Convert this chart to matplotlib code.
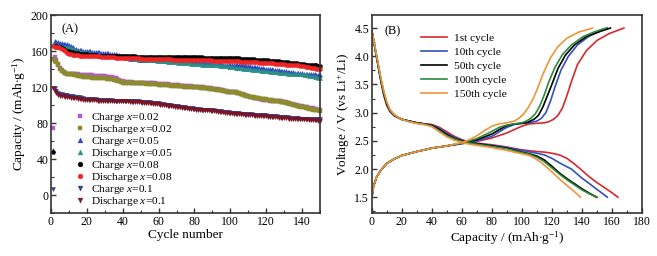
import matplotlib
matplotlib.use('Agg')
from matplotlib import pyplot as plt
import numpy as np

plt.rcParams['font.family'] = ['Liberation Serif', 'DejaVu Serif']
plt.rcParams['mathtext.fontset'] = 'custom'
plt.rcParams['mathtext.rm'] = 'Liberation Serif'
plt.rcParams['mathtext.it'] = 'Liberation Serif:italic'

# (A) cycling data, capacity in mAh/g for cycles 1..150
cycles = np.arange(1, 151)

charge_002 = [74, 153, 150, 145, 141, 139, 137, 136, 135, 135,
              134, 134, 134, 134, 134, 133, 133, 133, 133, 133,
              133, 133, 133, 132, 132, 132, 132, 132, 132, 132,
              131, 131, 131, 131, 130, 130, 129, 128, 127, 127,
              126, 126, 126, 126, 126, 125, 125, 125, 125, 125,
              125, 125, 124, 124, 124, 124, 124, 124, 123, 123,
              123, 123, 123, 123, 123, 122, 122, 122, 122, 122,
              122, 121, 121, 121, 121, 121, 121, 121, 120, 120,
              120, 120, 120, 120, 120, 119, 119, 119, 119, 118,
              118, 118, 118, 117, 117, 117, 116, 116, 115, 115,
              115, 114, 114, 113, 113, 112, 112, 111, 110, 110,
              109, 109, 108, 108, 108, 107, 107, 106, 106, 106,
              106, 105, 105, 105, 104, 104, 104, 104, 103, 103,
              103, 102, 102, 101, 101, 100, 100, 99, 99, 99,
              98, 98, 98, 97, 97, 97, 96, 96, 95, 95]
discharge_002 = [151, 149, 148, 146, 140, 138, 137, 136, 135, 135,
                 134, 134, 133, 133, 132, 132, 132, 131, 131, 131,
                 131, 131, 130, 130, 130, 130, 130, 130, 130, 130,
                 129, 129, 129, 129, 128, 128, 127, 127, 126, 125,
                 125, 125, 125, 125, 125, 124, 124, 124, 124, 124,
                 124, 124, 123, 123, 123, 123, 123, 123, 123, 122,
                 122, 122, 122, 122, 122, 122, 121, 121, 121, 121,
                 121, 121, 121, 120, 120, 120, 120, 120, 120, 120,
                 120, 120, 119, 119, 119, 119, 119, 118, 118, 118,
                 118, 117, 117, 117, 117, 116, 116, 115, 115, 115,
                 115, 114, 114, 113, 113, 112, 111, 111, 110, 110,
                 109, 109, 109, 108, 108, 108, 107, 107, 107, 107,
                 106, 106, 106, 105, 105, 104, 104, 103, 103, 103,
                 102, 102, 101, 101, 100, 100, 99, 99, 98, 98,
                 98, 97, 97, 96, 96, 95, 95, 94, 94, 93]
charge_005 = [50, 171, 170, 170, 169, 169, 168, 168, 168, 167,
              166, 164, 162, 162, 161, 161, 161, 160, 160, 160,
              160, 160, 159, 159, 159, 159, 159, 158, 158, 158,
              158, 158, 157, 157, 157, 157, 156, 156, 155, 154,
              153, 152, 152, 151, 151, 151, 151, 151, 150, 150,
              150, 150, 150, 150, 150, 150, 150, 150, 150, 150,
              150, 150, 149, 149, 149, 149, 149, 149, 149, 149,
              149, 149, 149, 148, 148, 148, 148, 148, 148, 148,
              148, 148, 147, 147, 147, 147, 147, 147, 146, 146,
              146, 146, 146, 146, 146, 145, 145, 145, 145, 145,
              145, 145, 145, 144, 144, 144, 144, 143, 143, 143,
              143, 142, 142, 142, 142, 141, 141, 141, 140, 140,
              140, 140, 140, 139, 139, 139, 139, 138, 138, 138,
              138, 137, 137, 137, 137, 136, 136, 136, 136, 136,
              135, 135, 135, 135, 134, 134, 134, 133, 133, 133]
discharge_005 = [168, 167, 167, 166, 166, 165, 165, 164, 164, 164,
                 163, 162, 161, 160, 160, 159, 159, 159, 158, 158,
                 158, 157, 157, 157, 156, 156, 156, 156, 155, 155,
                 155, 155, 155, 154, 154, 154, 154, 153, 153, 153,
                 153, 152, 152, 152, 152, 151, 151, 151, 151, 151,
                 151, 150, 150, 150, 150, 150, 150, 150, 149, 149,
                 149, 149, 149, 149, 148, 148, 148, 148, 148, 148,
                 147, 147, 147, 147, 147, 147, 147, 146, 146, 146,
                 146, 146, 146, 145, 145, 145, 145, 145, 144, 144,
                 144, 144, 144, 143, 143, 143, 143, 143, 142, 142,
                 142, 142, 141, 141, 141, 141, 140, 140, 140, 140,
                 140, 139, 139, 139, 139, 139, 138, 138, 138, 138,
                 138, 137, 137, 137, 137, 137, 136, 136, 136, 136,
                 136, 135, 135, 135, 135, 134, 134, 134, 134, 134,
                 133, 133, 133, 132, 132, 132, 131, 131, 130, 130]
charge_008 = [48, 166, 166, 165, 164, 163, 162, 161, 160, 160,
              159, 159, 158, 158, 158, 157, 157, 157, 157, 157,
              156, 156, 156, 156, 156, 155, 155, 155, 155, 155,
              155, 155, 155, 155, 154, 154, 154, 154, 154, 154,
              154, 154, 154, 154, 154, 154, 154, 153, 153, 153,
              153, 153, 153, 153, 153, 153, 153, 153, 153, 153,
              153, 153, 153, 153, 153, 153, 153, 153, 153, 153,
              153, 153, 153, 153, 153, 153, 153, 153, 153, 153,
              153, 153, 153, 153, 152, 152, 152, 152, 152, 152,
              152, 152, 152, 152, 152, 152, 152, 152, 152, 152,
              152, 152, 152, 152, 152, 151, 151, 151, 151, 151,
              151, 151, 151, 150, 150, 150, 150, 150, 150, 150,
              150, 149, 149, 149, 149, 149, 149, 148, 148, 148,
              148, 148, 147, 147, 147, 147, 147, 146, 146, 146,
              146, 145, 145, 145, 145, 144, 144, 144, 143, 143]
discharge_008 = [166, 165, 165, 164, 163, 162, 161, 160, 158, 157,
                 157, 156, 156, 156, 156, 155, 155, 155, 155, 155,
                 155, 154, 154, 154, 154, 154, 154, 153, 153, 153,
                 153, 153, 153, 153, 153, 152, 152, 152, 152, 152,
                 152, 152, 152, 152, 152, 152, 152, 152, 152, 151,
                 151, 151, 151, 151, 151, 151, 151, 151, 151, 151,
                 151, 151, 151, 151, 151, 151, 151, 150, 150, 150,
                 150, 150, 150, 150, 150, 150, 150, 150, 150, 150,
                 150, 150, 150, 150, 150, 150, 150, 150, 150, 149,
                 149, 149, 149, 149, 149, 149, 149, 149, 149, 149,
                 149, 149, 149, 149, 149, 148, 148, 148, 148, 148,
                 148, 148, 148, 148, 148, 147, 147, 147, 147, 147,
                 147, 147, 147, 147, 146, 146, 146, 146, 146, 146,
                 145, 145, 145, 145, 144, 144, 144, 144, 143, 143,
                 143, 142, 142, 142, 141, 141, 141, 140, 140, 140]
charge_01 = [7, 119, 116, 113, 112, 112, 111, 111, 111, 110,
             110, 110, 109, 109, 109, 109, 108, 108, 107, 107,
             107, 107, 107, 107, 107, 106, 106, 106, 106, 106,
             106, 106, 106, 106, 105, 105, 105, 105, 105, 105,
             105, 105, 104, 104, 104, 104, 104, 104, 104, 103,
             103, 103, 103, 103, 103, 102, 102, 102, 102, 102,
             101, 101, 101, 100, 100, 100, 100, 99, 99, 99,
             99, 98, 98, 98, 98, 97, 97, 97, 97, 96,
             96, 96, 96, 95, 95, 95, 95, 94, 94, 94,
             94, 93, 93, 93, 93, 92, 92, 92, 92, 91,
             91, 91, 91, 91, 91, 90, 90, 90, 90, 90,
             90, 90, 89, 89, 89, 89, 89, 89, 89, 89,
             88, 88, 88, 88, 88, 88, 87, 87, 87, 87,
             87, 87, 86, 86, 86, 86, 86, 86, 85, 85,
             85, 85, 85, 85, 85, 84, 84, 84, 84, 84]
discharge_01 = [119, 116, 113, 111, 110, 110, 110, 109, 109, 109,
                108, 108, 108, 108, 107, 107, 107, 106, 106, 106,
                106, 106, 106, 106, 106, 105, 105, 105, 105, 105,
                105, 105, 105, 105, 104, 104, 104, 104, 104, 104,
                104, 104, 104, 103, 103, 103, 103, 103, 103, 103,
                102, 102, 102, 102, 102, 102, 101, 101, 101, 101,
                100, 100, 100, 100, 99, 99, 99, 99, 98, 98,
                98, 98, 97, 97, 97, 97, 96, 96, 96, 96,
                95, 95, 95, 95, 94, 94, 94, 94, 93, 93,
                93, 93, 92, 92, 92, 92, 91, 91, 91, 91,
                91, 90, 90, 90, 90, 90, 90, 89, 89, 89,
                89, 89, 89, 88, 88, 88, 88, 88, 88, 88,
                87, 87, 87, 87, 87, 87, 86, 86, 86, 86,
                86, 86, 85, 85, 85, 85, 85, 85, 84, 84,
                84, 84, 84, 83, 83, 83, 83, 83, 82, 82]

# (B) charge/discharge profiles: capacity (mAh/g), voltage (V)
chg_1_cap = [0, 1, 3, 6, 10, 15, 20, 30, 40, 50, 60, 70, 80, 90, 95, 100, 105, 110, 115, 118,
             121, 124, 127, 130, 133, 137, 143, 150, 158, 168]
chg_1_v = [1.50, 1.68, 1.85, 1.98, 2.10, 2.18, 2.24, 2.31, 2.37, 2.41, 2.45, 2.49, 2.55, 2.64, 2.70,
           2.76, 2.80, 2.81, 2.82, 2.84, 2.88, 2.95, 3.08, 3.30, 3.55, 3.85, 4.10, 4.28, 4.40, 4.50]
chg_10_cap = [0, 1, 3, 6, 10, 15, 20, 30, 40, 50, 60, 70, 80, 85, 90, 95, 100, 105, 110, 113,
              116, 119, 122, 126, 131, 137, 145, 157]
chg_10_v = [1.50, 1.68, 1.85, 1.98, 2.10, 2.18, 2.24, 2.31, 2.37, 2.41, 2.45, 2.50, 2.58, 2.66,
            2.74, 2.79, 2.81, 2.82, 2.85, 2.90, 3.00, 3.20, 3.45, 3.75, 4.00, 4.20, 4.36, 4.50]
chg_50_cap = [0, 1, 3, 6, 10, 15, 20, 30, 40, 50, 60, 70, 80, 85, 90, 95, 100, 104, 108, 111,
              114, 117, 120, 124, 129, 135, 143, 152, 159]
chg_50_v = [1.50, 1.68, 1.85, 1.98, 2.10, 2.18, 2.24, 2.31, 2.37, 2.41, 2.46, 2.52, 2.62, 2.70,
            2.77, 2.80, 2.81, 2.83, 2.88, 2.95, 3.10, 3.30, 3.50, 3.78, 4.02, 4.20, 4.35, 4.44, 4.50]
chg_100_cap = [0, 1, 3, 6, 10, 15, 20, 30, 40, 50, 60, 70, 78, 85, 90, 95, 100, 103, 106, 109,
               112, 115, 118, 122, 127, 133, 141, 149, 156]
chg_100_v = [1.50, 1.68, 1.85, 1.98, 2.10, 2.18, 2.24, 2.31, 2.37, 2.41, 2.46, 2.54, 2.64, 2.74,
             2.78, 2.80, 2.82, 2.85, 2.90, 2.98, 3.12, 3.32, 3.55, 3.80, 4.03, 4.20, 4.35, 4.44, 4.50]
chg_150_cap = [0, 1, 3, 6, 10, 15, 20, 30, 40, 50, 60, 65, 70, 75, 80, 85, 90, 95, 98, 101,
               104, 107, 110, 114, 119, 124, 130, 138, 147]
chg_150_v = [1.50, 1.68, 1.85, 1.98, 2.10, 2.18, 2.24, 2.31, 2.37, 2.41, 2.47, 2.52, 2.59, 2.68,
             2.76, 2.80, 2.82, 2.85, 2.90, 2.97, 3.08, 3.22, 3.40, 3.68, 3.97, 4.17, 4.32, 4.43, 4.50]

dis_1_cap = [0, 2, 4, 6, 8, 10, 12, 15, 20, 25, 30, 35, 40, 45, 50, 55, 60, 65, 70, 80, 90, 100,
             110, 115, 120, 125, 130, 135, 139, 145, 150, 155, 160, 164]
dis_1_v = [4.45, 4.15, 3.85, 3.55, 3.30, 3.12, 3.02, 2.94, 2.88, 2.85, 2.82, 2.80, 2.79, 2.74, 2.66,
           2.58, 2.52, 2.48, 2.46, 2.43, 2.39, 2.34, 2.31, 2.30, 2.28, 2.25, 2.19, 2.09, 2.00, 1.86,
           1.76, 1.67, 1.58, 1.50]
dis_10_cap = [0, 2, 4, 6, 8, 10, 12, 15, 20, 25, 30, 35, 40, 45, 50, 55, 60, 65, 70, 80, 90, 100,
              110, 115, 120, 125, 130, 133, 140, 145, 150, 157]
dis_10_v = [4.45, 4.15, 3.86, 3.57, 3.32, 3.14, 3.03, 2.95, 2.88, 2.85, 2.82, 2.80, 2.78, 2.72, 2.63,
            2.56, 2.51, 2.47, 2.45, 2.42, 2.38, 2.33, 2.28, 2.25, 2.19, 2.11, 2.04, 2.00, 1.84, 1.74,
            1.64, 1.50]
dis_50_cap = [0, 2, 4, 6, 8, 10, 12, 15, 20, 25, 30, 35, 40, 45, 50, 55, 60, 65, 70, 80, 90, 100,
              105, 110, 115, 120, 125, 130, 135, 140, 145, 150]
dis_50_v = [4.45, 4.16, 3.87, 3.58, 3.34, 3.15, 3.04, 2.95, 2.88, 2.85, 2.82, 2.80, 2.77, 2.70, 2.61,
            2.54, 2.50, 2.46, 2.45, 2.41, 2.37, 2.30, 2.27, 2.23, 2.16, 2.05, 1.93, 1.83, 1.74, 1.65,
            1.57, 1.50]
dis_100_cap = [0, 2, 4, 6, 8, 10, 12, 15, 20, 25, 30, 35, 40, 45, 50, 55, 60, 65, 70, 80, 90, 100,
               105, 110, 115, 120, 125, 130, 135, 140, 145, 149.5]
dis_100_v = [4.45, 4.17, 3.88, 3.60, 3.36, 3.17, 3.05, 2.96, 2.88, 2.84, 2.81, 2.79, 2.76, 2.68, 2.59,
             2.53, 2.49, 2.46, 2.44, 2.40, 2.36, 2.29, 2.26, 2.21, 2.13, 2.02, 1.91, 1.81, 1.72, 1.63,
             1.56, 1.50]
dis_150_cap = [0, 2, 4, 6, 8, 10, 12, 15, 20, 25, 30, 35, 40, 45, 50, 55, 60, 65, 70, 80, 90, 100,
               105, 108, 111, 114, 118, 122, 126, 130, 135, 139]
dis_150_v = [4.45, 4.18, 3.90, 3.62, 3.38, 3.19, 3.06, 2.96, 2.88, 2.84, 2.81, 2.79, 2.75, 2.66, 2.57,
             2.51, 2.47, 2.44, 2.42, 2.38, 2.33, 2.27, 2.24, 2.20, 2.15, 2.09, 2.00, 1.90, 1.80, 1.71,
             1.60, 1.50]

fig = plt.figure(figsize=(6.57, 2.56), dpi=100)
ax1 = fig.add_axes([0.0776, 0.168, 0.4094, 0.773])
ax2 = fig.add_axes([0.566, 0.168, 0.411, 0.773])

# --- panel A ---
series = [
    (charge_002, 's', '#b35cc4', 'Charge $x$=0.02'),
    (discharge_002, 's', '#8c8c2c', 'Discharge $x$=0.02'),
    (charge_005, '^', '#2a44c4', 'Charge $x$=0.05'),
    (discharge_005, '^', '#2a9088', 'Discharge $x$=0.05'),
    (charge_008, 'o', '#000000', 'Charge $x$=0.08'),
    (discharge_008, 'o', '#f02424', 'Discharge $x$=0.08'),
    (charge_01, 'v', '#2e3a8c', 'Charge $x$=0.1'),
    (discharge_01, 'v', '#7a1424', 'Discharge $x$=0.1'),
]
for vals, mk, col, lab in series:
    ax1.plot(cycles, vals, linestyle='none', marker=mk, ms=2.9, mec=col, mfc=col,
             mew=0.3, color=col, label=lab, clip_on=False)

ax1.set_xlim(0, 150)
ax1.set_ylim(-20, 200)
ax1.set_xticks(range(0, 141, 20))
ax1.set_xticks(range(0, 151, 10), minor=True)
ax1.set_yticks(range(0, 201, 40))
ax1.set_yticks(range(-20, 201, 20), minor=True)
ax1.set_xlabel('Cycle number', fontsize=9.5, labelpad=1)
ax1.set_ylabel('Capacity / (mAh$\\cdot$g$^{-1}$)', fontsize=9.5, labelpad=2)
ax1.text(0.04, 0.96, '(A)', transform=ax1.transAxes, fontsize=9, va='top')
ax1.legend(loc='lower left', bbox_to_anchor=(0.07, -0.01), frameon=False, fontsize=8.2,
           handlelength=0.6, handletextpad=0.65, labelspacing=-0.08, markerscale=1.2,
           borderaxespad=0.2)

# --- panel B ---
cols = ['#d8282e', '#2e52c0', '#000000', '#2c8a3c', '#f0943a']
labels = ['1st cycle', '10th cycle', '50th cycle', '100th cycle', '150th cycle']
charges = [(chg_1_cap, chg_1_v), (chg_10_cap, chg_10_v), (chg_50_cap, chg_50_v),
           (chg_100_cap, chg_100_v), (chg_150_cap, chg_150_v)]
discharges = [(dis_1_cap, dis_1_v), (dis_10_cap, dis_10_v), (dis_50_cap, dis_50_v),
              (dis_100_cap, dis_100_v), (dis_150_cap, dis_150_v)]
for (cc, cv), (dc, dv), col, lab in zip(charges, discharges, cols, labels):
    ax2.plot(cc, cv, color=col, lw=1.2, label=lab)
    ax2.plot(dc, dv, color=col, lw=1.2)

ax2.set_xlim(0, 180)
ax2.set_ylim(1.22, 4.73)
ax2.set_xticks(range(0, 181, 20))
ax2.set_xticks(range(0, 181, 10), minor=True)
ax2.set_yticks(np.arange(1.5, 4.51, 0.5))
ax2.set_yticks(np.arange(1.25, 4.73, 0.25), minor=True)
ax2.yaxis.set_major_formatter(matplotlib.ticker.FormatStrFormatter('%.1f'))
ax2.set_xlabel('Capacity / (mAh$\\cdot$g$^{-1}$)', fontsize=9.5, labelpad=1)
ax2.set_ylabel('Voltage / V (vs Li$^{+}$/Li)', fontsize=9.5, labelpad=2)
ax2.text(0.045, 0.95, '(B)', transform=ax2.transAxes, fontsize=9, va='top')
ax2.legend(loc='upper left', bbox_to_anchor=(0.155, 0.945), frameon=False, fontsize=8.2,
           handlelength=2.3, handletextpad=0.6, labelspacing=0.35, borderaxespad=0.2)

for ax in (ax1, ax2):
    ax.tick_params(which='both', direction='in', labelsize=8.5, color='#333333')
    ax.tick_params(which='major', length=3.5, width=1)
    ax.tick_params(which='minor', length=2, width=0.8)
    ax.tick_params(axis='x', pad=2)
    ax.tick_params(axis='y', pad=2)
    for sp in ax.spines.values():
        sp.set_linewidth(1.2)
        sp.set_color('#333333')

fig.savefig('out.png', dpi=100)
